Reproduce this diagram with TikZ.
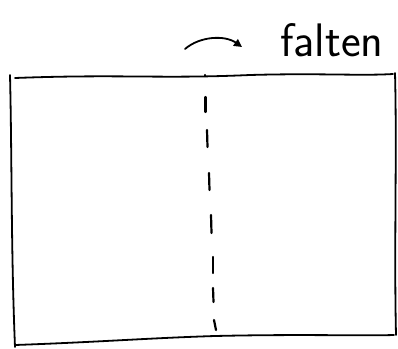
\documentclass[tikz,border=0pt]{standalone}
\usetikzlibrary{arrows.meta}
\begin{document}
\begin{tikzpicture}[x=1pt,y=-1pt,
  ink/.style={line width=1.8pt,line cap=round,line join=round,black},
  fold/.style={line width=2.2pt,line cap=round,black},
  lbl/.style={font=\fontsize{47}{52}\selectfont\sffamily,inner sep=0pt,anchor=base west}]
\useasboundingbox (0,0) rectangle (398,348);
% sheet
\draw[ink] (15,78) .. controls (120,74) and (160,79) .. (250,75) .. controls (320,73) and (360,76) .. (393,74);
\draw[ink] (10,75) .. controls (12,160) and (11,250) .. (15,347);
\draw[ink] (15,345) .. controls (100,342) and (150,338) .. (215,336) .. controls (300,334) and (360,336) .. (394,335);
\draw[ink] (395,73) .. controls (397,150) and (394,250) .. (396,335);
% fold line
\foreach \ya/\yb/\xa/\xb in {75/76/205/205, 97/112/205.5/205.5, 130/147/207/207.5, 173/190/209/209.5, 215/233/211/211.5, 257/273/213/213, 288/302/213/213.5, 320/330/214/216}
  \draw[fold] (\xa,\ya) -- (\xb,\yb);
% arrow and label
\coordinate (s) at (185,49);
\coordinate (e) at (242,47);
\draw[ink,-{Triangle[length=8pt,width=8pt]}] (s) .. controls (200,36) and (225,35) .. (e);
\node[lbl] (t) at (280,56) {falten};
\end{tikzpicture}
\end{document}
